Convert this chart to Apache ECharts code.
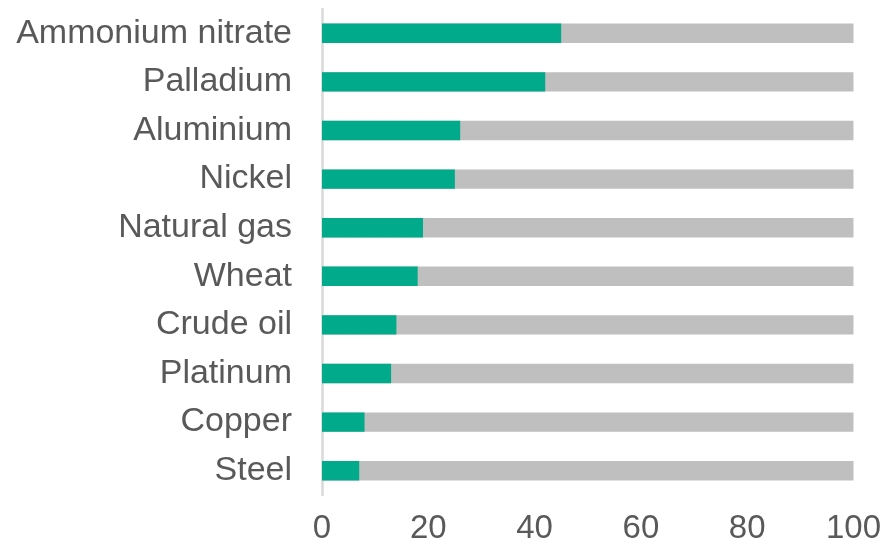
<!DOCTYPE html>
<html>
<head>
<meta charset="utf-8">
<script src="https://cdn.jsdelivr.net/npm/echarts@6/dist/echarts.min.js"></script>
<style>
  html, body { margin: 0; padding: 0; background: #fff; }
  #chart { width: 884px; height: 551px; }
</style>
</head>
<body>
<div id="chart"></div>
<script>
var commodities = ['Ammonium nitrate', 'Palladium', 'Aluminium', 'Nickel', 'Natural gas',
                   'Wheat', 'Crude oil', 'Platinum', 'Copper', 'Steel'];
var shares = [45, 42, 26, 25, 19, 18, 14, 13, 8, 7];
var totals = [100, 100, 100, 100, 100, 100, 100, 100, 100, 100];
var xTicks = [0, 20, 40, 60, 80, 100];

var myChart = echarts.init(document.getElementById('chart'));
myChart.setOption({
  animation: false,
  textStyle: { fontFamily: 'Liberation Sans, Arial, sans-serif' },
  grid: { left: 322, right: 30, top: 9, bottom: 56 },
  xAxis: {
    type: 'value',
    min: xTicks[0],
    max: xTicks[xTicks.length - 1],
    interval: xTicks[1] - xTicks[0],
    axisLine: { show: false },
    axisTick: { show: false },
    splitLine: { show: false },
    axisLabel: { fontSize: 33, color: '#595959', margin: 17 }
  },
  yAxis: {
    type: 'category',
    inverse: true,
    data: commodities,
    axisLine: { show: true, lineStyle: { color: '#d9d9d9', width: 2.5 } },
    axisTick: { show: false },
    axisLabel: { fontSize: 34, color: '#595959', margin: 30 }
  },
  series: [
    {
      name: 'total',
      type: 'bar',
      data: totals,
      barWidth: '40%',
      barGap: '-100%',
      itemStyle: { color: '#bfbfbf' },
      silent: true
    },
    {
      name: 'share',
      type: 'bar',
      data: shares,
      barWidth: '40%',
      barGap: '-100%',
      itemStyle: { color: '#00aa8a' }
    }
  ]
});
</script>
</body>
</html>
